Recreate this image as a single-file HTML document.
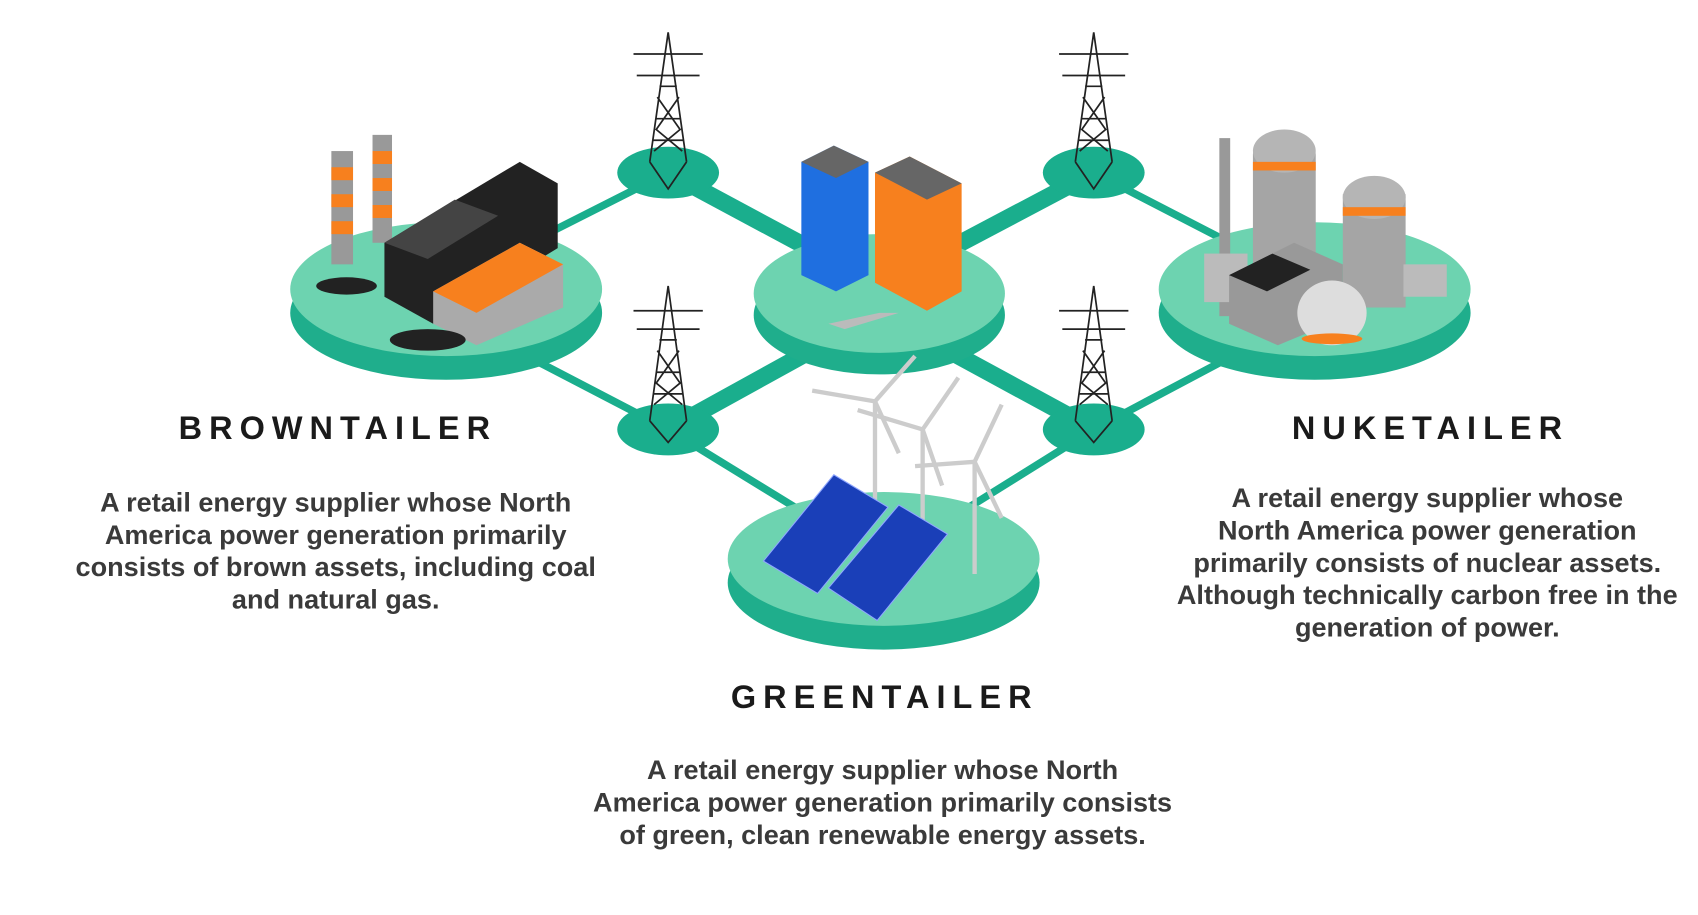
<!DOCTYPE html>
<html><head><meta charset="utf-8"><style>
html,body{margin:0;padding:0;background:#fff;width:1698px;height:915px;overflow:hidden}
svg{display:block}
.t{font-family:"Liberation Sans",sans-serif;font-weight:bold;fill:#1a1a1a;font-size:30px;letter-spacing:6.5px;text-anchor:middle}
.b{font-family:"Liberation Sans",sans-serif;font-weight:bold;fill:#3a3a3a;font-size:25px;text-anchor:middle}
.tw{stroke:#222;stroke-width:1.6;fill:none}
</style></head><body>
<svg width="1698" height="915" viewBox="0 0 1568 848" preserveAspectRatio="none">
<g stroke="#1aae8d" stroke-width="7">
<line x1="410" y1="265" x2="617" y2="160"/><line x1="617" y1="160" x2="812" y2="265" stroke-width="16"/>
<line x1="812" y1="265" x2="1010" y2="160" stroke-width="16"/><line x1="1010" y1="160" x2="1213" y2="265"/>
<line x1="410" y1="290" x2="617" y2="398"/><line x1="617" y1="398" x2="812" y2="290" stroke-width="16"/>
<line x1="812" y1="290" x2="1010" y2="398" stroke-width="16"/><line x1="1010" y1="398" x2="1213" y2="290"/>
<line x1="617" y1="398" x2="815" y2="520"/><line x1="1010" y1="398" x2="815" y2="520"/>
</g>
<g fill="#1aae8d">
<ellipse cx="617" cy="160" rx="47" ry="24"/><ellipse cx="1010" cy="160" rx="47" ry="24"/>
<ellipse cx="617" cy="398" rx="47" ry="24"/><ellipse cx="1010" cy="398" rx="47" ry="24"/>
</g>
<g>
<ellipse cx="412" cy="290" rx="144" ry="62" fill="#1fae8c"/><ellipse cx="412" cy="268" rx="144" ry="62" fill="#6dd3b0"/>
<ellipse cx="812" cy="292" rx="116" ry="55" fill="#1fae8c"/><ellipse cx="812" cy="272" rx="116" ry="55" fill="#6dd3b0"/>
<ellipse cx="1214" cy="290" rx="144" ry="62" fill="#1fae8c"/><ellipse cx="1214" cy="268" rx="144" ry="62" fill="#6dd3b0"/>
<ellipse cx="816" cy="540" rx="144" ry="62" fill="#1fae8c"/><ellipse cx="816" cy="518" rx="144" ry="62" fill="#6dd3b0"/>
</g>
<g class="tw">
<path d="M617 30 L600 150 M617 30 L634 150 M606 110 L628 110 M603 130 L631 130 M609 80 L625 80 M585 50 L649 50 M588 70 L646 70 M607 90 L628 120 L604 140 M627 90 L606 120 L630 140 M600 150 L617 175 L634 150"/>
<path d="M1010 30 L993 150 M1010 30 L1027 150 M999 110 L1021 110 M996 130 L1024 130 M1002 80 L1018 80 M978 50 L1042 50 M981 70 L1039 70 M1000 90 L1021 120 L997 140 M1020 90 L999 120 L1023 140 M993 150 L1010 175 L1027 150"/>
<path d="M617 265 L600 390 M617 265 L634 390 M606 345 L628 345 M603 365 L631 365 M609 315 L625 315 M585 288 L649 288 M588 305 L646 305 M607 325 L628 355 L604 375 M627 325 L606 355 L630 375 M600 390 L617 410 L634 390"/>
<path d="M1010 265 L993 390 M1010 265 L1027 390 M999 345 L1021 345 M996 365 L1024 365 M1002 315 L1018 315 M978 288 L1042 288 M981 305 L1039 305 M1000 325 L1021 355 L997 375 M1020 325 L999 355 L1023 375 M993 390 L1010 410 L1027 390"/>
</g>
<rect x="306" y="140" width="20" height="105" fill="#999"/><rect x="306" y="155" width="20" height="12" fill="#f7801e"/><rect x="306" y="180" width="20" height="12" fill="#f7801e"/><rect x="306" y="205" width="20" height="12" fill="#f7801e"/>
<rect x="344" y="125" width="18" height="100" fill="#999"/><rect x="344" y="140" width="18" height="12" fill="#f7801e"/><rect x="344" y="165" width="18" height="12" fill="#f7801e"/><rect x="344" y="190" width="18" height="12" fill="#f7801e"/>
<polygon points="355,225 480,150 515,170 515,230 400,300 355,275" fill="#222"/>
<polygon points="355,225 420,185 460,200 395,240" fill="#444"/>
<polygon points="400,270 480,225 520,245 520,285 440,320 400,300" fill="#aaa"/>
<polygon points="400,270 480,225 520,245 440,290" fill="#f7801e"/>
<ellipse cx="320" cy="265" rx="28" ry="8" fill="#222"/><ellipse cx="395" cy="315" rx="35" ry="10" fill="#222"/>
<polygon points="812,290 830,290 780,305 765,300" fill="#bbb"/>
<polygon points="740,150 770,135 802,150 802,255 772,270 740,255" fill="#1f6fe0"/>
<polygon points="740,150 770,135 802,150 772,165" fill="#666"/>
<polygon points="808,160 840,145 888,170 888,270 856,288 808,262" fill="#f7801e"/>
<polygon points="808,160 840,145 888,170 856,185" fill="#666"/>
<rect x="1126" y="128" width="10" height="165" fill="#999"/>
<rect x="1157" y="135" width="58" height="130" rx="8" fill="#a5a5a5"/><ellipse cx="1186" cy="140" rx="29" ry="20" fill="#b5b5b5"/><rect x="1157" y="150" width="58" height="8" fill="#f7801e"/>
<rect x="1240" y="180" width="58" height="105" fill="#a5a5a5"/><ellipse cx="1269" cy="183" rx="29" ry="20" fill="#b5b5b5"/><rect x="1240" y="192" width="58" height="8" fill="#f7801e"/>
<rect x="1112" y="235" width="40" height="45" fill="#bbb"/><rect x="1296" y="245" width="40" height="30" fill="#bbb"/>
<polygon points="1135,255 1195,225 1240,245 1240,295 1180,320 1135,300" fill="#999"/>
<polygon points="1135,255 1175,235 1210,250 1170,270" fill="#222"/>
<ellipse cx="1230" cy="290" rx="32" ry="30" fill="#ddd"/><ellipse cx="1230" cy="314" rx="28" ry="5" fill="#f7801e"/>
<g stroke="#ccc" stroke-width="4" fill="none">
<line x1="808" y1="372" x2="808" y2="480"/><line x1="808" y1="372" x2="845" y2="330"/><line x1="808" y1="372" x2="750" y2="362"/><line x1="808" y1="372" x2="830" y2="420"/>
<line x1="852" y1="398" x2="852" y2="500"/><line x1="852" y1="398" x2="885" y2="350"/><line x1="852" y1="398" x2="792" y2="380"/><line x1="852" y1="398" x2="870" y2="450"/>
<line x1="900" y1="428" x2="900" y2="532"/><line x1="900" y1="428" x2="925" y2="375"/><line x1="900" y1="428" x2="845" y2="432"/><line x1="900" y1="428" x2="925" y2="480"/>
</g>
<polygon points="705,520 770,440 820,470 755,550" fill="#1a3fb8" stroke="#8fa6ff" stroke-width="1"/>
<polygon points="765,545 830,468 875,495 810,575" fill="#1a3fb8" stroke="#8fa6ff" stroke-width="1"/>
<text class="t" x="312" y="407">BROWNTAILER</text>
<text class="b" x="310" y="474">A retail energy supplier whose North</text>
<text class="b" x="310" y="504">America power generation primarily</text>
<text class="b" x="310" y="534">consists of brown assets, including coal</text>
<text class="b" x="310" y="564">and natural gas.</text>
<text class="t" x="1321" y="407">NUKETAILER</text>
<text class="b" x="1318" y="470">A retail energy supplier whose</text>
<text class="b" x="1318" y="500">North America power generation</text>
<text class="b" x="1318" y="530">primarily consists of nuclear assets.</text>
<text class="b" x="1318" y="560">Although technically carbon free in the</text>
<text class="b" x="1318" y="590">generation of power.</text>
<text class="t" x="817" y="656">GREENTAILER</text>
<text class="b" x="815" y="722">A retail energy supplier whose North</text>
<text class="b" x="815" y="752">America power generation primarily consists</text>
<text class="b" x="815" y="782">of green, clean renewable energy assets.</text>
</svg>
</body></html>
